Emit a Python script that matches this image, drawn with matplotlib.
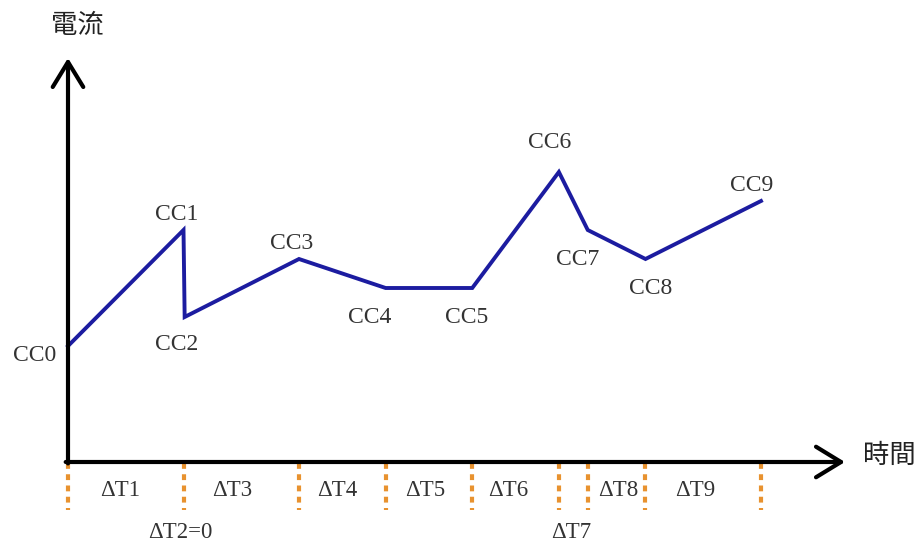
import matplotlib.pyplot as plt

# Data: time steps (arbitrary units) and current levels for each CC point
cc_labels = ['CC0', 'CC1', 'CC2', 'CC3', 'CC4', 'CC5', 'CC6', 'CC7', 'CC8', 'CC9']
times = [0, 1.0, 1.01, 2.0, 2.75, 3.5, 4.25, 4.5, 5.0, 6.0]
currents = [4, 8, 5, 7, 6, 6, 10, 8, 7, 9]

# interval boundaries on the time axis and their labels
boundaries = [0, 1.0, 2.0, 2.75, 3.5, 4.25, 4.5, 5.0, 6.0]
dt_labels = ['ΔT1', 'ΔT2=0', 'ΔT3', 'ΔT4', 'ΔT5', 'ΔT6', 'ΔT7', 'ΔT8', 'ΔT9']
dt_pos = [0.45, 0.97, 1.42, 2.33, 3.09, 3.81, 4.36, 4.76, 5.43]
dt_low = [False, True, False, False, False, False, True, False, False]

# label offsets (points) for each CC annotation
offsets = [(-24, -7), (-5, 11), (-6, -20), (-5, 11.5), (-11.5, -21),
           (-4, -21), (-7, 21), (-7, -21), (4, -21.5), (-7, 11)]

fig = plt.figure(figsize=(9.2, 5.43), dpi=100)
ax = fig.add_axes([0, 0, 1, 1])
ax.set_xlim(-68 / 115.5, (920 - 68) / 115.5)
ax.set_ylim(-(543 - 462) / 29, 462 / 29)
ax.axis('off')

# axes arrows
arrow = dict(arrowstyle='->, head_length=0.9, head_width=0.55', lw=3, color='black',
             shrinkA=0, shrinkB=0, mutation_scale=20)
ax.annotate('', xy=(0, (462 - 58) / 29), xytext=(0, -0.05), arrowprops=arrow)
ax.annotate('', xy=((845 - 68) / 115.5, 0), xytext=(-0.02, 0), arrowprops=arrow)

cjk = ['Noto Sans CJK TC', 'DejaVu Sans']
ax.text(0.08, 15.07, '電流', fontsize=19, family=cjk, weight='light',
        ha='center', va='center', color='#222222')
ax.text(7.11, 0.24, '時間', fontsize=19, family=cjk, weight='light',
        ha='center', va='center', color='#222222')

# dotted boundary markers
for b in boundaries:
    ax.plot([b, b], [-0.05, -1.65], color='#e8922f', lw=3, ls=(0, (1.4, 1.3)),
            solid_capstyle='butt')

serif = 'Liberation Serif'
for lab, x, low in zip(dt_labels, dt_pos, dt_low):
    y = -2.42 if low else -1.0
    ax.text(x, y, lab, fontsize=16.5, family=serif,
            ha='center', va='center', color='#333333')

# current profile
ax.plot(times, currents, color='#1c1ca0', lw=2.8, solid_joinstyle='miter')

for lab, x, y, off in zip(cc_labels, times, currents, offsets):
    ax.annotate(lab, (x, y), xytext=off, textcoords='offset points',
                fontsize=17, family=serif, ha='center', va='center', color='#333333')

fig.savefig('out.png', dpi=100)
